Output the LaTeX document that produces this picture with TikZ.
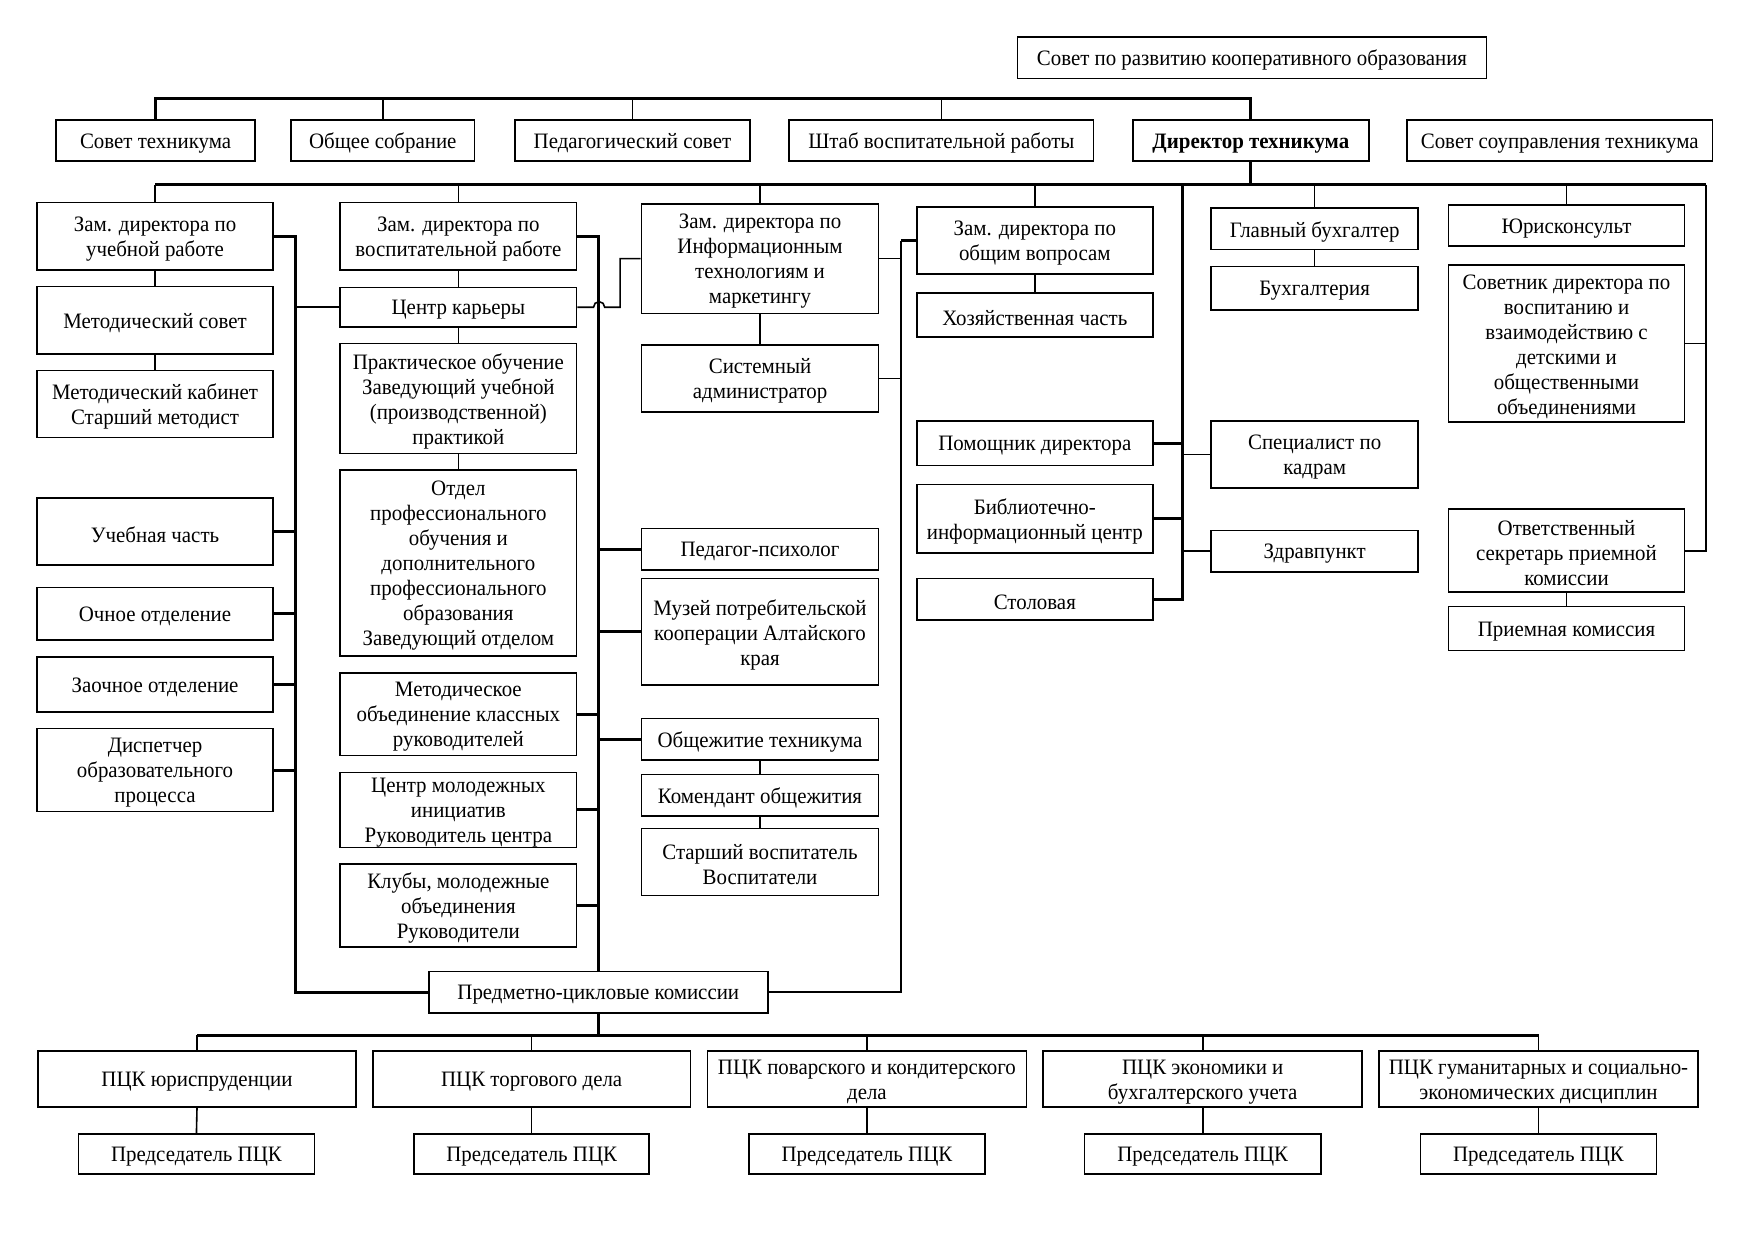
\documentclass[tikz,border=0pt]{standalone}
\usepackage{fontspec}
\setmainfont{Liberation Serif}[FakeStretch=0.95]
\usetikzlibrary{calc}
\def\U{0.55967pt}
\tikzset{
  box/.style={draw, line width=0.8pt, inner sep=0pt},
  txt/.style={inner sep=0pt, align=center, font=\fontsize{11}{12.5}\selectfont},
  thn/.style={line width=0.8pt},
  thk/.style={line width=1.5pt},
}
\newcommand\bx[6]{\node[box, minimum width={(#4-#2)*\U}, minimum height={(#5-#3)*\U}] (#1) at ({(#2+#4)/2},{(#3+#5)/2}) {};
\node[txt] (#1-t) at ([yshift=-1.4pt]#1.center) {#6};}
\begin{document}
\begin{tikzpicture}[x=0.55967pt,y=-0.55967pt]
\useasboundingbox[fill=white] (0,0) rectangle (1567,1107.8);
% top
\bx{sovrazv}{909}{33}{1328}{70}{Совет по развитию кооперативного образования}
\bx{sovtex}{50}{107}{228}{144}{Совет техникума}
\bx{obsob}{260}{107}{424}{144}{Общее собрание}
\bx{pedsov}{460}{107}{670}{144}{Педагогический совет}
\bx{shtab}{705}{107}{977}{144}{Штаб воспитательной работы}
\bx{dir}{1012}{107}{1223}{144}{\bfseries Директор техникума}
\bx{sovsoup}{1257}{107}{1530}{144}{Совет соуправления техникума}
% column 1
\bx{zamuch}{33}{181}{244}{241}{Зам. директора по\\учебной работе}
\bx{metsov}{33}{256}{244}{316}{Методический совет}
\bx{metkab}{33}{331}{244}{391}{Методический кабинет\\Старший методист}
\bx{uchch}{33}{445}{244}{505}{Учебная часть}
\bx{ochn}{33}{525}{244}{572}{Очное отделение}
\bx{zaochn}{33}{587}{244}{636}{Заочное отделение}
\bx{disp}{33}{651}{244}{725}{Диспетчер\\образовательного\\процесса}
% column 2
\bx{zamvos}{304}{181}{515}{241}{Зам. директора по\\воспитательной работе}
\bx{karera}{304}{257}{515}{292}{Центр карьеры}
\bx{prakt}{304}{307}{515}{405}{Практическое обучение\\Заведующий учебной\\(производственной)\\практикой}
\bx{otdel}{304}{420}{515}{586}{Отдел\\профессионального\\обучения и\\дополнительного\\профессионального\\образования\\Заведующий отделом}
\bx{metob}{304}{601}{515}{675}{Методическое\\объединение классных\\руководителей}
\bx{cmi}{304}{690}{515}{757}{Центр молодежных\\инициатив\\Руководитель центра}
\bx{kluby}{304}{772}{515}{846}{Клубы, молодежные\\объединения\\Руководители}
% column 3
\bx{zamit}{573}{182}{785}{280}{Зам. директора по\\Информационным\\технологиям и\\маркетингу}
\bx{sysadm}{573}{308}{785}{368}{Системный\\администратор}
\bx{pedpsy}{573}{472}{785}{509}{Педагог-психолог}
\bx{muzei}{573}{517}{785}{612}{Музей потребительской\\кооперации Алтайского\\края}
\bx{obsch}{573}{642}{785}{679}{Общежитие техникума}
\bx{koment}{573}{692}{785}{729}{Комендант общежития}
\bx{starvos}{573}{740}{785}{800}{Старший воспитатель\\Воспитатели}
% column 4
\bx{zamob}{819}{185}{1030}{245}{Зам. директора по\\общим вопросам}
\bx{hoz}{819}{262}{1030}{301}{Хозяйственная часть}
\bx{pomdir}{819}{376}{1030}{416}{Помощник директора}
\bx{bibl}{819}{433}{1030}{494}{Библиотечно-\\информационный центр}
\bx{stol}{819}{517}{1030}{554}{Столовая}
% column 5
\bx{glbuh}{1082}{186}{1267}{223}{Главный бухгалтер}
\bx{buh}{1082}{238}{1267}{277}{Бухгалтерия}
\bx{spec}{1082}{376}{1267}{436}{Специалист по\\кадрам}
\bx{zdrav}{1082}{474}{1267}{511}{Здравпункт}
% column 6
\bx{jur}{1294}{183}{1505}{220}{Юрисконсульт}
\bx{sovetnik}{1294}{237}{1505}{377}{Советник директора по\\воспитанию и\\взаимодействию с\\детскими и\\общественными\\объединениями}
\bx{otvsek}{1294}{455}{1505}{529}{Ответственный\\секретарь приемной\\комиссии}
\bx{priem}{1294}{542}{1505}{581}{Приемная комиссия}
% PCK
\bx{predm}{383}{868}{686}{905}{Предметно-цикловые комиссии}
\bx{pck1}{34}{939}{318}{989}{ПЦК юриспруденции}
\bx{pck2}{333}{939}{617}{989}{ПЦК торгового дела}
\bx{pck3}{632}{939}{917}{989}{ПЦК поварского и кондитерского\\дела}
\bx{pck4}{932}{939}{1217}{989}{ПЦК экономики и\\бухгалтерского учета}
\bx{pck5}{1232}{939}{1517}{989}{ПЦК гуманитарных и социально-\\экономических дисциплин}
\bx{pred1}{70}{1013}{281}{1049}{Председатель ПЦК}
\bx{pred2}{370}{1013}{580}{1049}{Председатель ПЦК}
\bx{pred3}{669}{1013}{880}{1049}{Председатель ПЦК}
\bx{pred4}{969}{1013}{1180}{1049}{Председатель ПЦК}
\bx{pred5}{1269}{1013}{1480}{1049}{Председатель ПЦК}
% helper coordinates
\coordinate (b1) at (0,88);
\coordinate (b2) at (0,165);
\coordinate (b3) at (0,925);
\coordinate (v1) at (264,0);
\coordinate (v3) at (805,0);
\coordinate (v4) at (1056,165);
\coordinate (v6) at (1524,165);
\coordinate (bx) at (554,0);
% top bus
\draw[thk] (sovtex.north) -- (sovtex.north |- b1) -- (dir.north |- b1) -- (dir.north);
\foreach \n in {obsob,pedsov,shtab} \draw[thn] (\n.north) -- (\n.north |- b1);
% director bus
\draw[thk] (dir.south) -- (dir.south |- b2);
\draw[thk] (zamuch.north |- b2) -- (v6);
\foreach \n in {zamuch,zamvos,zamit,zamob,glbuh,jur} \draw[thn] (\n.north) -- (\n.north |- b2);
% column links
\draw[thn] (zamuch) -- (metsov);
\draw[thn] (metsov) -- (metkab);
\draw[thn] (zamvos) -- (karera);
\draw[thn] (karera) -- (prakt);
\draw[thn] (prakt) -- (otdel);
\draw[thn] (zamit) -- (sysadm);
\draw[thn] (obsch) -- (koment);
\draw[thn] (koment) -- (starvos);
\draw[thn] (zamob) -- (hoz);
\draw[thn] (glbuh) -- (buh);
\draw[thn] (otvsek) -- (priem);
% left system
\draw[thk] (zamuch.east) -| (v1 |- predm.west) -- (predm.west);
\draw[thn] (karera.west) -- (karera.west -| v1);
\foreach \n in {uchch,ochn,zaochn,disp} \draw[thk] (\n.east) -- (\n.east -| v1);
% vospit system
\draw[thk] (zamvos.east) -| (predm.north);
\foreach \n in {pedpsy,muzei,obsch} \draw[thk] (\n.west) -- (\n.west -| predm.north);
\foreach \n in {metob,cmi,kluby} \draw[thk] (\n.east) -- (\n.east -| predm.north);
% bridge from career centre to IT
\draw[thn] (karera.east) -- ++(14.5,0) arc (180:0:2.8pt) -- (bx |- karera.east) |- (zamit.west);
% right-of-IT system
\draw[thk] (zamob.west) -- (zamob.west -| v3);
\draw[thn] (zamob.west -| v3) -- (v3 |- predm.east) -- (predm.east);
\foreach \n in {zamit,sysadm} \draw[thn] (\n.east) -- (\n.east -| v3);
% x=1056 system
\draw[thk] (v4) |- (stol.east);
\foreach \n in {pomdir,bibl} \draw[thk] (\n.east) -- (\n.east -| v4);
\foreach \n in {spec,zdrav} \draw[thn] (\n.west) -- (\n.west -| v4);
% x=1524 system
\draw[thn] (v6) |- (otvsek.east);
\draw[thn] (sovetnik.east) -- (sovetnik.east -| v6);
% bottom
\draw[thk] (predm.south) -- (predm.south |- b3);
\draw[thk] (pck1.north |- b3) -- (pck5.north |- b3);
\foreach \i in {1,...,5} {
  \draw[thn] (pck\i.north) -- (pck\i.north |- b3);
  \draw[thn] (pck\i.south) -- (pred\i.north);
}
\end{tikzpicture}
\end{document}
